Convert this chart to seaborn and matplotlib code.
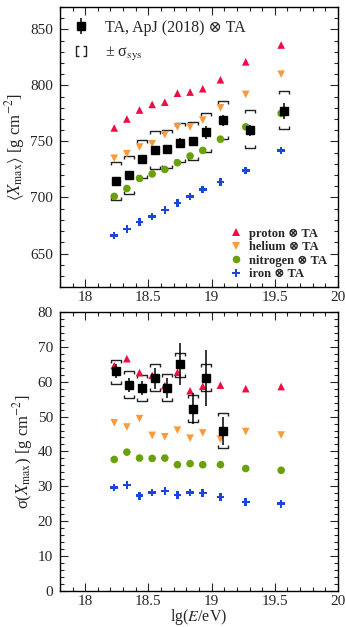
# Xmax moments: TA data vs. proton/helium/nitrogen/iron simulations
import numpy as np
import pandas as pd
import matplotlib
matplotlib.use('Agg')
import matplotlib.pyplot as plt
import seaborn as sns
from matplotlib.path import Path
from matplotlib.lines import Line2D
from matplotlib.ticker import MultipleLocator

# --- data ---
lgE_mc = [18.23, 18.33, 18.43, 18.53, 18.63, 18.73, 18.83, 18.93, 19.07, 19.27, 19.55]
lgE_ta = [18.245, 18.35, 18.45, 18.55, 18.65, 18.75, 18.85, 18.955, 19.09, 19.3, 19.575]

xmax_proton = [762, 770, 778, 783, 785, 793, 794, 797, 805, 821, 836]
xmax_helium = [735, 739, 745, 748, 756, 763, 763, 769, 780, 792, 810]
xmax_nitrogen = [701, 708, 717, 721, 725, 731, 737, 742, 752, 763, 775]
xmax_iron = [666, 672, 678, 683, 689, 695, 701, 707, 714, 724, 742]

xmax_ta = [715, 720, 734, 742, 743, 749, 750, 758, 769, 760, 777]
xmax_ta_stat = [2, 2, 3, 3, 3, 4, 4, 6, 5, 5, 7]
xmax_ta_sys_up = [17, 17, 17, 17, 17, 17, 17, 17, 17, 18, 18]
xmax_ta_sys_lo = [17, 17, 17, 17, 17, 17, 17, 17, 17, 16, 16]

sig_proton = [64.6, 66.6, 62.6, 61.8, 58.9, 62.7, 57.4, 58.7, 59.0, 58.0, 58.6]
sig_helium = [48.2, 47.0, 49.4, 44.6, 44.2, 46.1, 43.8, 45.3, 43.5, 45.7, 44.7]
sig_nitrogen = [37.7, 39.8, 38.1, 38.0, 38.1, 36.2, 36.5, 36.2, 36.2, 35.1, 34.6]
sig_iron = [29.7, 30.4, 27.3, 28.2, 28.6, 27.5, 28.2, 28.1, 27.0, 25.5, 25.0]

sig_ta = [63.0, 59.1, 58.2, 61.0, 58.2, 65.1, 52.3, 61.1, 45.9]
sig_ta_stat = [2, 2, 2, 3, 3, 6, 4.5, 8, 4]
sig_ta_sys_up = [3.1, 4.0, 3.7, 4.0, 3.9, 3.0, 4.0, 4.0, 5.0]
sig_ta_sys_lo = [3.8, 3.8, 3.8, 3.7, 3.8, 3.8, 4.0, 3.8, 4.8]

models = ['proton', 'helium', 'nitrogen', 'iron']
colors = {'proton': '#ec0f45', 'helium': '#fb9a3c', 'nitrogen': '#6aa10a', 'iron': '#1a46dc'}
markers = {'proton': '^', 'helium': 'v', 'nitrogen': 'o', 'iron': 'P'}

top_df = pd.DataFrame({
    'lgE': lgE_mc * 4,
    'val': xmax_proton + xmax_helium + xmax_nitrogen + xmax_iron,
    'model': np.repeat(models, len(lgE_mc)),
})
bot_df = pd.DataFrame({
    'lgE': lgE_mc * 4,
    'val': sig_proton + sig_helium + sig_nitrogen + sig_iron,
    'model': np.repeat(models, len(lgE_mc)),
})

sns.set_theme(style='ticks')
plt.rcParams['font.family'] = ['Liberation Serif', 'DejaVu Serif', 'DejaVu Sans']
plt.rcParams['mathtext.fontset'] = 'stix'

# bracket markers for systematics
up_br = Path([(-1, -0.7), (-1, 0), (1, 0), (1, -0.7)],
             [Path.MOVETO, Path.LINETO, Path.LINETO, Path.LINETO])
lo_br = Path([(-1, 0.7), (-1, 0), (1, 0), (1, 0.7)],
             [Path.MOVETO, Path.LINETO, Path.LINETO, Path.LINETO])
leg_br = Path([(-0.4, -1), (-1, -1), (-1, 1), (-0.4, 1), (0.4, -1), (1, -1), (1, 1), (0.4, 1)],
              [Path.MOVETO, Path.LINETO, Path.LINETO, Path.LINETO,
               Path.MOVETO, Path.LINETO, Path.LINETO, Path.LINETO])

fig = plt.figure(figsize=(3.46, 6.27), dpi=100)
ax1 = fig.add_axes([0.173, 0.542, 0.804, 0.447])
ax2 = fig.add_axes([0.173, 0.0575, 0.804, 0.445])


def draw_panel(ax, df, x_ta, y_ta, stat, sys_up, sys_lo):
    sns.scatterplot(data=df, x='lgE', y='val', hue='model', style='model',
                    palette=colors, markers=markers, s=30, linewidth=0,
                    legend=False, ax=ax, zorder=3)
    x_ta = np.array(x_ta)
    y_ta = np.array(y_ta)
    ax.plot(x_ta, y_ta + np.array(sys_up), ls='none', marker=up_br, ms=7,
            mfc='none', mec='#222222', mew=1.0, zorder=2)
    ax.plot(x_ta, y_ta - np.array(sys_lo), ls='none', marker=lo_br, ms=7,
            mfc='none', mec='#222222', mew=1.0, zorder=2)
    ax.errorbar(x_ta, y_ta, yerr=stat, fmt='s', color='black', ms=5.5,
                elinewidth=1.1, capsize=0, zorder=4)
    ax.set_xlim(17.8, 20)
    ax.xaxis.set_major_locator(MultipleLocator(0.5))
    ax.xaxis.set_minor_locator(MultipleLocator(0.1))
    ax.tick_params(which='both', direction='in', top=True, right=True,
                   labelsize=11, width=0.8)
    ax.tick_params(axis='y', pad=5)
    ax.tick_params(axis='x', pad=3)
    ax.tick_params(which='major', length=6)
    ax.tick_params(which='minor', length=3)
    ax.xaxis.set_major_formatter(plt.FuncFormatter(lambda v, p: f'{v:g}'))
    for sp in ax.spines.values():
        sp.set_linewidth(1.0)
        sp.set_color('black')


draw_panel(ax1, top_df, lgE_ta, xmax_ta, xmax_ta_stat, xmax_ta_sys_up, xmax_ta_sys_lo)
ax1.set_ylim(620, 870)
ax1.yaxis.set_major_locator(MultipleLocator(50))
ax1.yaxis.set_minor_locator(MultipleLocator(10))
ax1.set_xlabel('')
ax1.set_ylabel(r'$\langle X_{\rm max}\rangle$ [g cm$^{-2}$]', fontsize=12, labelpad=2)

draw_panel(ax2, bot_df, lgE_ta[:len(sig_ta)], sig_ta, sig_ta_stat, sig_ta_sys_up, sig_ta_sys_lo)
ax2.set_ylim(0, 80)
ax2.yaxis.set_major_locator(MultipleLocator(10))
ax2.yaxis.set_minor_locator(MultipleLocator(2))
ax2.set_xlabel(r'lg($E$/eV)', fontsize=11.5, labelpad=-1)
ax2.set_ylabel(r'σ($X_{\rm max}$) [g cm$^{-2}$]', fontsize=12, labelpad=2)

# legends
h_ta = ax1.errorbar([], [], yerr=[], fmt='s', color='black', ms=5.5, elinewidth=1.1)
h_sys = Line2D([], [], ls='none', marker=leg_br, ms=7, mfc='none', mec='#222222', mew=1.0)
leg1 = ax1.legend([h_ta, h_sys], ['TA, ApJ (2018) ⊗ TA', '± σ$_{\\rm sys}$'],
                  loc='upper left', frameon=False, fontsize=11.5, handlelength=1.0,
                  handletextpad=1.0, labelspacing=0.55, borderaxespad=0.4)
ax1.add_artist(leg1)

mc_handles = [Line2D([], [], ls='none', marker=markers[m], color=colors[m], ms=5.5,
                     mew=0) for m in models]
ax1.legend(mc_handles, [f'{m} ⊗ TA' for m in models], loc='lower right',
           frameon=False, prop={'size': 9, 'weight': 'bold'}, handlelength=1.0,
           handletextpad=0.5, labelspacing=0.12, borderaxespad=0.15,
           bbox_to_anchor=(0.985, 0.0))

fig.savefig('out.png', dpi=100)
